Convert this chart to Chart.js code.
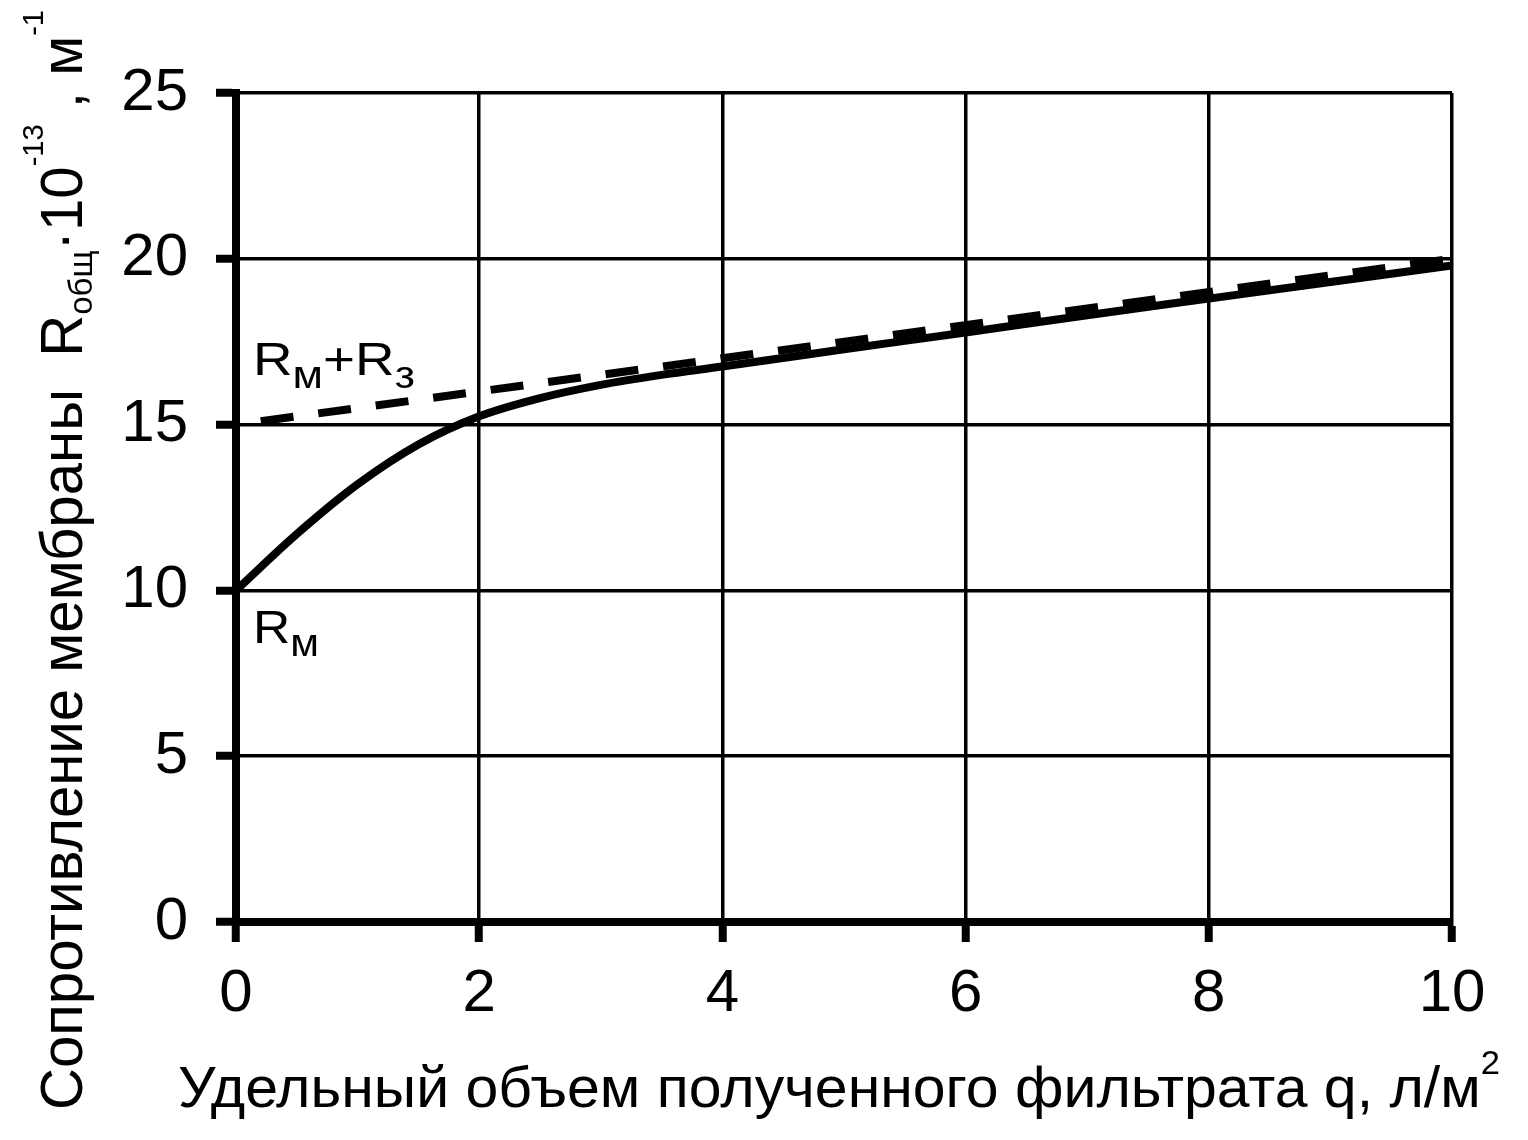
<!DOCTYPE html>
<html>
<head>
<meta charset="utf-8">
<script src="https://cdn.jsdelivr.net/npm/chart.js@4"></script>
<style>
  html, body { margin: 0; padding: 0; background: #fff; }
  #wrap { width: 1528px; height: 1140px; }
</style>
</head>
<body>
<div id="wrap"><canvas id="chart" width="1528" height="1140"></canvas></div>
<script>
// Rм curve (solid)
const qValues = [0, 0.5, 1, 1.5, 2, 2.5, 3, 3.5, 4, 5, 6, 7, 8, 9, 10];
const rMembrane = [10, 11.7, 13.2, 14.4, 15.25, 15.8, 16.2, 16.5, 16.75, 17.27, 17.78, 18.3, 18.8, 19.3, 19.8];

// Rм+Rз line (dashed)
const qSum = [0, 10];
const rSum = [15, 20];

const xTicks = [0, 2, 4, 6, 8, 10];
const yTicks = [0, 5, 10, 15, 20, 25];

const FONT = "'Liberation Sans', Arial, sans-serif";

// draw a run of text pieces (sub/superscripts) one after another
function drawRich(ctx, parts, fitWidth) {
  let total = 0;
  parts.forEach((p) => {
    ctx.font = p.size + "px " + FONT;
    p.w = ctx.measureText(p.text).width;
    total += p.w;
  });
  const k = fitWidth ? fitWidth / total : 1;
  ctx.scale(k, 1);
  let x = 0;
  parts.forEach((p) => {
    ctx.font = p.size + "px " + FONT;
    ctx.fillText(p.text, x, p.dy || 0);
    x += p.w;
  });
}

const textPlugin = {
  id: "texts",
  afterDraw(chart) {
    const ctx = chart.ctx;
    const xs = chart.scales.x;
    const ys = chart.scales.y;
    ctx.save();
    ctx.fillStyle = "#000";
    ctx.textBaseline = "alphabetic";
    ctx.textAlign = "left";

    // y axis title (rotated)
    ctx.save();
    ctx.translate(82, 1110);
    ctx.rotate(-Math.PI / 2);
    drawRich(ctx, [
      { text: "Сопротивление мембраны  ", size: 60 },
      { text: "R", size: 60 },
      { text: "общ", size: 34, dy: 10 },
      { text: "·10", size: 60 },
      { text: "-13", size: 30, dy: -39 },
      { text: " , м", size: 60 },
      { text: "-1", size: 30, dy: -39 },
    ], 1100);
    ctx.restore();

    // x axis title
    ctx.save();
    ctx.translate(178, 1107);
    drawRich(ctx, [
      { text: "Удельный объем полученного фильтрата q, л/м", size: 58 },
      { text: "2", size: 34, dy: -33 },
    ], 1322);
    ctx.restore();

    // curve labels
    const lx = xs.getPixelForValue(0.14);
    ctx.save();
    ctx.translate(lx, ys.getPixelForValue(16.5));
    drawRich(ctx, [
      { text: "R", size: 47 },
      { text: "м", size: 38, dy: 13 },
      { text: "+R", size: 47 },
      { text: "з", size: 38, dy: 13 },
    ], 162);
    ctx.restore();

    ctx.save();
    ctx.translate(lx, ys.getPixelForValue(8.4));
    drawRich(ctx, [
      { text: "R", size: 47 },
      { text: "м", size: 38, dy: 13 },
    ], 66);
    ctx.restore();

    ctx.restore();
  },
};

const ctx = document.getElementById("chart").getContext("2d");
new Chart(ctx, {
  type: "line",
  data: {
    datasets: [
      {
        label: "Rм",
        data: qValues.map((q, i) => ({ x: q, y: rMembrane[i] })),
        borderColor: "#000",
        borderWidth: 8,
        pointRadius: 0,
        cubicInterpolationMode: "monotone",
        fill: false,
      },
      {
        label: "Rм+Rз",
        data: qSum.map((q, i) => ({ x: q, y: rSum[i] })),
        borderColor: "#000",
        borderWidth: 8,
        borderDash: [33, 25],
        borderDashOffset: 33,
        pointRadius: 0,
        fill: false,
      },
    ],
  },
  options: {
    responsive: false,
    animation: false,
    devicePixelRatio: 1,
    layout: { padding: { left: 0, right: 76, top: 93, bottom: 0 } },
    plugins: {
      legend: { display: false },
      tooltip: { enabled: false },
    },
    scales: {
      x: {
        type: "linear",
        min: 0,
        max: 10,
        afterBuildTicks: (scale) => {
          scale.ticks = xTicks.map((v) => ({ value: v }));
        },
        afterFit: (scale) => {
          scale.height = 218;
          scale.paddingLeft = 0;
          scale.paddingRight = 0;
        },
        grid: {
          color: "#000",
          lineWidth: 3.5,
          tickLength: 20,
          tickWidth: 8,
          tickColor: "#000",
        },
        border: { display: true, color: "#000", width: 8 },
        ticks: {
          color: "#000",
          padding: 16,
          maxRotation: 0,
          font: { family: FONT, size: 60 },
        },
      },
      y: {
        type: "linear",
        min: 0,
        max: 25,
        afterBuildTicks: (scale) => {
          scale.ticks = yTicks.map((v) => ({ value: v }));
        },
        afterFit: (scale) => {
          scale.width = 236;
          scale.paddingTop = 0;
          scale.paddingBottom = 0;
        },
        grid: {
          color: "#000",
          lineWidth: 3.5,
          tickLength: 20,
          tickWidth: 8,
          tickColor: "#000",
        },
        border: { display: true, color: "#000", width: 8 },
        ticks: {
          color: "#000",
          padding: 28,
          font: { family: FONT, size: 60 },
        },
      },
    },
  },
  plugins: [textPlugin],
});
</script>
</body>
</html>
